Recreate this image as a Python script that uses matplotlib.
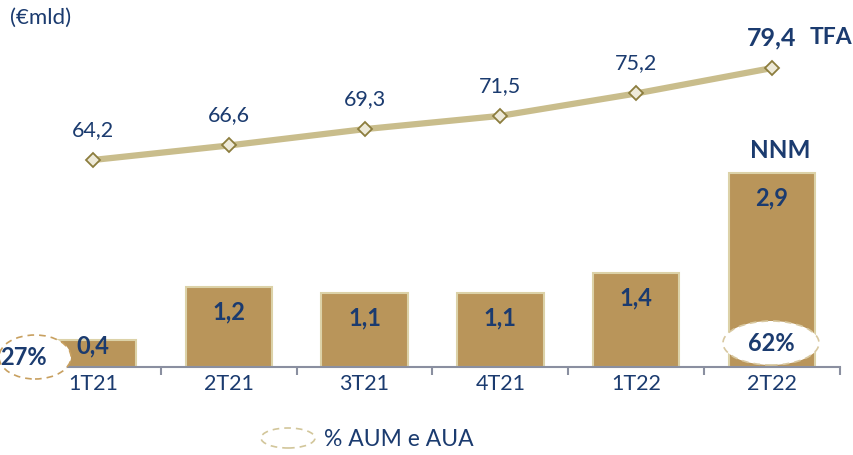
import matplotlib
matplotlib.use("Agg")
import matplotlib.pyplot as plt
from matplotlib.patches import Ellipse
import numpy as np

categories = ["1T21", "2T21", "3T21", "4T21", "1T22", "2T22"]
nnm = [0.4, 1.2, 1.1, 1.1, 1.4, 2.9]
tfa = [64.2, 66.6, 69.3, 71.5, 75.2, 79.4]
nnm_labels = ["0,4", "1,2", "1,1", "1,1", "1,4", "2,9"]
tfa_labels = ["64,2", "66,6", "69,3", "71,5", "75,2", "79,4"]
pct_first = "27%"
pct_last = "62%"

W, H = 854, 456
NAVY = "#1B3B6F"
BAR = "#B9955A"
BAR_EDGE = "#DCD2A8"
LINE = "#C9BD8C"
plt.rcParams['font.family'] = ['Lato', 'DejaVu Sans']

fig = plt.figure(figsize=(W/100, H/100), dpi=100)
left, right, top, base = 25, 840, 40, 368
ax = fig.add_axes([left/W, (H-base)/H, (right-left)/W, (base-top)/H])
x = np.arange(len(categories))
ax.set_xlim(-0.5, 5.5)
ax.set_ylim(0, (base-top)/67.0)
ax.bar(x, nnm, width=0.635, color=BAR, edgecolor=BAR_EDGE, linewidth=1.5, zorder=2)
for xi, v, lab in zip(x, nnm, nnm_labels):
    ax.text(xi, max(v-0.36, 0.33), lab, ha="center", va="center", fontsize=17,
            fontweight="bold", color=NAVY, zorder=5)
for s in ["top", "right", "left"]:
    ax.spines[s].set_visible(False)
ax.spines["bottom"].set_color("#8A8FA0")
ax.spines["bottom"].set_linewidth(1.5)
ax.set_yticks([])
ax.set_xticks(np.arange(-0.5, 6.0, 1.0), minor=False)
ax.set_xticklabels([])
ax.tick_params(axis="x", which="major", length=6, width=1.5, color="#8A8FA0", direction="out")
ax.set_xticks(x, minor=True)
ax.set_xticklabels(categories, minor=True)
ax.tick_params(axis="x", which="minor", length=0, pad=4, labelsize=15.5, labelcolor=NAVY)

ax2 = ax.twinx()
ax2.set_xlim(-0.5, 5.5)
y0 = 64.2 - (base-161)/6.05
y1 = 64.2 + (161-top)/6.05
ax2.set_ylim(y0, y1)
ax2.axis("off")
ax2.plot(x, tfa, color=LINE, linewidth=4.5, marker="D", markersize=7,
         markerfacecolor="#EEEAD9", markeredgecolor="#8C7D3E", markeredgewidth=1.3, zorder=3)
for i, (xi, v, lab) in enumerate(zip(x, tfa, tfa_labels)):
    bold = i == len(tfa) - 1
    ax2.text(xi, v + 31/6.05, lab, ha="center", va="center", fontsize=18 if bold else 15.5,
             fontweight="bold" if bold else "normal", color=NAVY)

def px(xp, yp):
    return xp/W, (H-yp)/H

# callouts
e1 = Ellipse(px(35, 358), 72/W, 44/H, transform=fig.transFigure, facecolor="white",
             edgecolor="#C8A060", linestyle=(0, (4, 3)), linewidth=1.2, zorder=10)
fig.patches.append(e1)
fig.text(*px(23, 358), pct_first, ha="center", va="center", fontsize=17, fontweight="bold", color=NAVY, zorder=11)
e2 = Ellipse(px(771, 344), 96/W, 44/H, transform=fig.transFigure, facecolor="white",
             edgecolor="#D8C8A0", linestyle=(0, (4, 3)), linewidth=1.2, zorder=10)
fig.patches.append(e2)
fig.text(*px(771, 344), pct_last, ha="center", va="center", fontsize=17, fontweight="bold", color=NAVY, zorder=11)

# legend
e3 = Ellipse(px(288, 439), 54/W, 20/H, transform=fig.transFigure, facecolor="white",
             edgecolor="#D2C69A", linestyle=(0, (4, 3)), linewidth=1.2)
fig.patches.append(e3)
fig.text(*px(324, 440), "% AUM e AUA", ha="left", va="center", fontsize=16.5, color=NAVY)

fig.text(*px(831, 38), "TFA", ha="center", va="center", fontsize=16.5, fontweight="bold", color=NAVY)
fig.text(*px(780, 151), "NNM", ha="center", va="center", fontsize=17.5, fontweight="bold", color=NAVY)
fig.text(*px(10, 18), "(€mld)", ha="left", va="center", fontsize=16, color=NAVY)

fig.savefig("out.png", dpi=100)
